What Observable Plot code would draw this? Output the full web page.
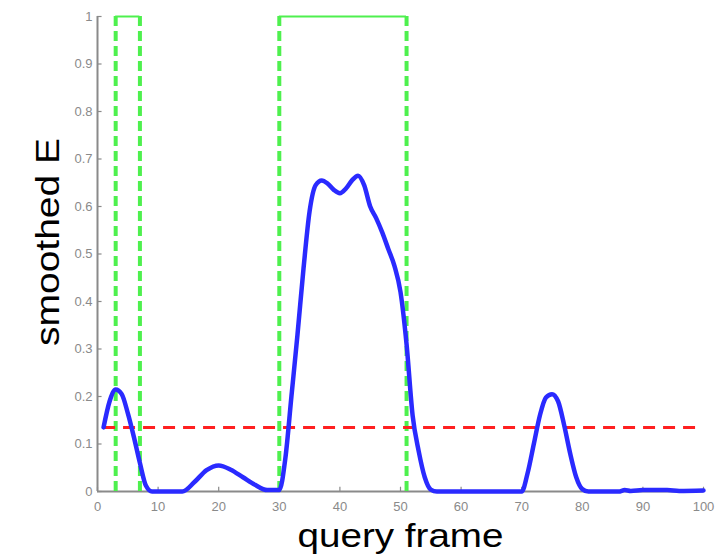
<!DOCTYPE html>
<html>
<head>
<meta charset="utf-8">
<script src="https://cdn.jsdelivr.net/npm/d3@7"></script>
<script src="https://cdn.jsdelivr.net/npm/@observablehq/plot@0.6"></script>
<style>
  html, body { margin: 0; padding: 0; background: #fff; }
</style>
</head>
<body>
<div id="chart"></div>
<script>
// smoothed E curve (query frame, value)
const frames = [1, 2, 3, 4, 5, 6, 7, 8, 9, 14, 16, 18, 20, 22, 24, 26, 28, 30, 31, 32, 33, 34, 35, 36, 37, 38, 39, 40, 41, 42, 43, 44, 45, 46, 47, 48, 49, 50, 51, 52, 53, 54, 55, 56, 70, 71, 72, 73, 74, 75, 76, 77, 78, 79, 80, 81, 86, 87, 88, 90, 94, 96, 100];
const smoothedE = [0.135, 0.19, 0.215, 0.205, 0.165, 0.115, 0.06, 0.012, 0, 0, 0.02, 0.045, 0.055, 0.046, 0.03, 0.014, 0.003, 0.003, 0.07, 0.2, 0.33, 0.47, 0.59, 0.645, 0.655, 0.648, 0.635, 0.628, 0.638, 0.655, 0.665, 0.645, 0.6, 0.575, 0.545, 0.51, 0.475, 0.42, 0.31, 0.16, 0.085, 0.03, 0.004, 0, 0, 0.04, 0.1, 0.16, 0.198, 0.205, 0.19, 0.14, 0.08, 0.03, 0.005, 0, 0, 0.003, 0.001, 0.003, 0.003, 0.001, 0.002];

// ground-truth segments (green boxes)
const segStart = [3, 30];
const segEnd = [7, 51];
const segTop = 1;

// threshold (red dashed)
const threshold = 0.135;
const thresholdFrom = 1;
const thresholdTo = 100;

// ticks
const xTicks = [0, 10, 20, 30, 40, 50, 60, 70, 80, 90, 100];
const yTicks = [0, 0.1, 0.2, 0.3, 0.4, 0.5, 0.6, 0.7, 0.8, 0.9, 1];
const yTickLabels = ["0", "0.1", "0.2", "0.3", "0.4", "0.5", "0.6", "0.7", "0.8", "0.9", "1"];

const curve = frames.map((f, i) => ({frame: f, e: smoothedE[i]}));
const segs = segStart.map((s, i) => ({s, e: segEnd[i]}));
const segEdges = segStart.concat(segEnd);

const axisColor = "#8a8a8a";
const labelColor = "#8a8a8a";

const chart = Plot.plot({
  width: 724,
  height: 557,
  marginLeft: 97,
  marginRight: 21,
  marginTop: 16,
  marginBottom: 66,
  style: {fontFamily: "Liberation Sans, Arial, sans-serif", background: "#fff"},
  x: {domain: [0, 100]},
  y: {domain: [0, 1]},
  marks: [
    // axis lines
    Plot.ruleY([0], {stroke: axisColor, strokeWidth: 2}),
    Plot.ruleX([0], {stroke: axisColor, strokeWidth: 2}),
    // inward ticks
    Plot.ruleX(xTicks, {y1: 0, y2: 0.009, stroke: axisColor, strokeWidth: 1.2}),
    Plot.ruleY(yTicks, {x1: 0, x2: 0.75, stroke: axisColor, strokeWidth: 1.2}),
    // tick labels
    Plot.axisX({ticks: xTicks, tickSize: 0, tickPadding: 10, fontSize: 13, fill: labelColor, label: null}),
    Plot.axisY({ticks: yTicks, tickSize: 0, tickPadding: 5, fontSize: 13, fill: labelColor, label: null,
      tickFormat: (d) => yTickLabels[yTicks.indexOf(d)]}),
    // green segments
    Plot.ruleX(segEdges, {y1: 0, y2: segTop, stroke: "#4ef04e", strokeWidth: 4, strokeDasharray: "10,5"}),
    Plot.ruleY(segs, {y: segTop, x1: "s", x2: "e", stroke: "#4ef04e", strokeWidth: 2}),
    // threshold
    Plot.ruleY([threshold], {x1: thresholdFrom, x2: thresholdTo, stroke: "#ff2020", strokeWidth: 3, strokeDasharray: "12,8"}),
    // curve
    Plot.line(curve, {x: "frame", y: "e", stroke: "#2a2aff", strokeWidth: 4.5, curve: "monotone-x"}),
    // axis titles
    Plot.text(["query frame"], {frameAnchor: "bottom", dy: 45, fontSize: 34, fill: "#000", lineAnchor: "middle", className: "xtitle"}),
    Plot.text(["smoothed E"], {frameAnchor: "left", dx: -49, dy: 92, rotate: -90, textAnchor: "start", fontSize: 34, fill: "#000", lineAnchor: "middle", className: "ytitle"})
  ]
});
document.getElementById("chart").appendChild(chart);
// stretch titles to match reference widths
d3.select(chart).selectAll(".xtitle text").attr("textLength", 206).attr("lengthAdjust", "spacingAndGlyphs");
d3.select(chart).selectAll(".ytitle text").attr("textLength", 208).attr("lengthAdjust", "spacingAndGlyphs");
</script>
</body>
</html>
